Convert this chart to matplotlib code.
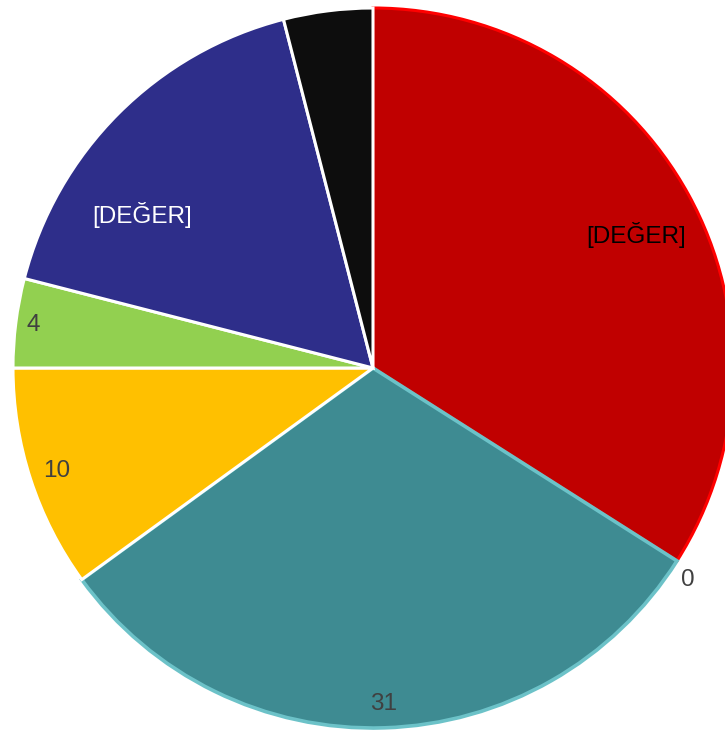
import numpy as np
import matplotlib
matplotlib.use("Agg")
import matplotlib.pyplot as plt

# slices, clockwise from 12 o'clock
values = [34, 0, 31, 10, 4, 17, 4]
labels = ["[DEĞER]", "0", "31", "10", "4", "[DEĞER]", ""]
colors = ["#c00000", "#c00000", "#3e8b92", "#ffc000", "#92d050", "#2e2e8a", "#0d0d0d"]
edge_colors = ["#ff0000", "#ff0000", "#6cc2c8", "white", "white", "white", "white"]
label_colors = ["#000000", "#404040", "#404040", "#404040", "#404040", "#ffffff", "#404040"]

# label placement (radius fraction and angle tweak in degrees)
label_r = [0.82, 1.055, 0.935, 0.925, 0.95, 0.77, 0.8]
label_dang = [-2, -1.5, 0, 0, 0, 11.5, 0]

W, H = 725, 731
cx, cy, R = 373, 368, 360

fig = plt.figure(figsize=(W / 100, H / 100), dpi=100)
ax = fig.add_axes([0, 0, 1, 1])

wedges, _ = ax.pie(
    values,
    colors=colors,
    startangle=90,
    counterclock=False,
    radius=R,
    wedgeprops=dict(linewidth=2.2, joinstyle="miter"),
)
for w, ec in zip(wedges, edge_colors):
    w.set_edgecolor(ec)
# teal outer rim looks a touch heavier
wedges[2].set_linewidth(2.6)

for w, lab, tc, rf, da in zip(wedges, labels, label_colors, label_r, label_dang):
    if not lab:
        continue
    ang = np.deg2rad((w.theta1 + w.theta2) / 2 + da)
    ax.text(rf * R * np.cos(ang), rf * R * np.sin(ang), lab,
            ha="center", va="center", color=tc,
            fontsize=17.5, family=["Liberation Sans", "DejaVu Sans"])

ax.set_xlim(-cx, W - cx)
ax.set_ylim(-(H - cy), cy)
ax.set_aspect("equal")
ax.axis("off")

fig.savefig("out.png", dpi=100)
